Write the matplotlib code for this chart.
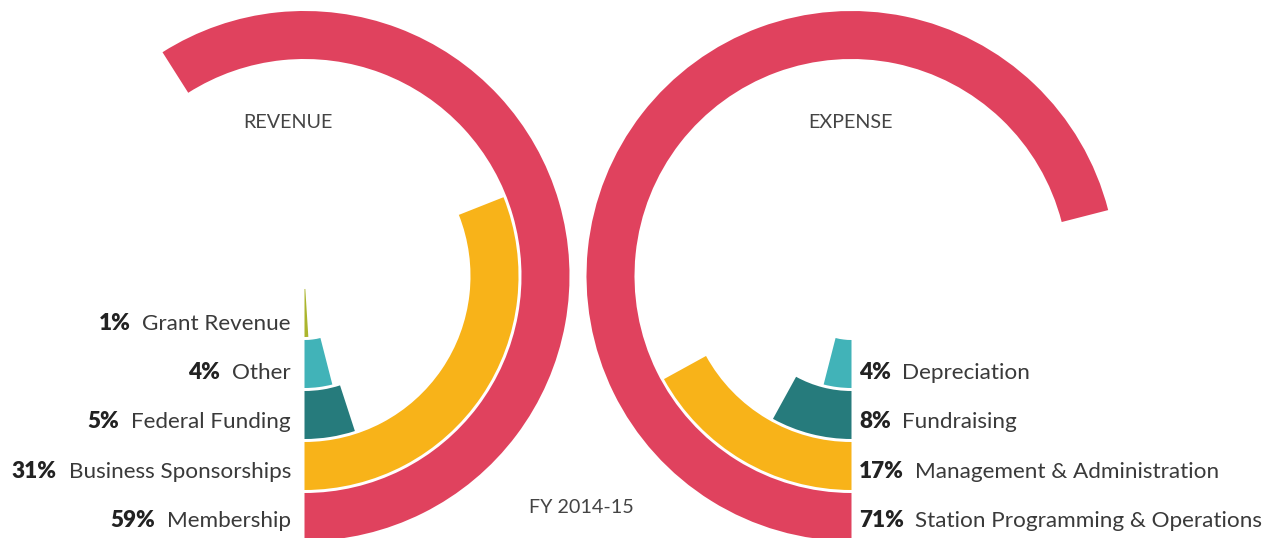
import numpy as np
import matplotlib
matplotlib.use("Agg")
import matplotlib.pyplot as plt

plt.rcParams['font.family'] = ['Lato', 'DejaVu Sans']

# data, outer ring first
rev_names = ["Membership", "Business Sponsorships", "Federal Funding", "Other", "Grant Revenue"]
rev_pct = [59, 31, 5, 4, 1]
exp_names = ["Station Programming & Operations", "Management & Administration", "Fundraising", "Depreciation"]
exp_pct = [71, 17, 8, 4]
colors = ["#E0425E", "#F8B319", "#267B7C", "#41B3B8", "#ABB52D"]

W, H = 1272, 538
fig = plt.figure(figsize=(W / 100, H / 100), dpi=100)

RMAX = 270.0
ring_in = [217, 166, 115, 64, 13]
ring_h = 48
label_base = [527, 478, 428, 379, 330]   # baseline (px from top)
FS = 16.2


def make_ax(cx, cy, direction):
    ax = fig.add_axes([(cx - RMAX) / W, (H - cy - RMAX) / H, 2 * RMAX / W, 2 * RMAX / H],
                      projection="polar")
    ax.set_theta_zero_location("S")
    ax.set_theta_direction(direction)
    ax.set_ylim(0, RMAX)
    ax.axis("off")
    return ax


def draw_rings(ax, pcts, cols):
    for i, p in enumerate(pcts):
        ax.bar(0, ring_h, width=np.deg2rad(p * 3.6), bottom=ring_in[i], align="edge",
               color=cols[i], edgecolor="none")


renderer = fig.canvas.get_renderer()


def label(x, base, pct, name, side):
    y = (H - base) / H
    if side == "left":
        t = fig.text(x / W, y, name, ha="right", va="baseline", fontsize=FS, color="#3a3a3a")
        bb = t.get_window_extent(renderer)
        fig.text((bb.x0 - 12) / W, y, f"{pct}%", ha="right", va="baseline",
                 fontsize=FS, fontweight="heavy", color="#222222")
    else:
        t = fig.text(x / W, y, f"{pct}%", ha="left", va="baseline", fontsize=FS,
                     fontweight="heavy", color="#222222")
        bb = t.get_window_extent(renderer)
        fig.text((bb.x1 + 11) / W, y, name, ha="left", va="baseline",
                 fontsize=FS, color="#3a3a3a")


# revenue
ax1 = make_ax(304.5, 276, 1)
draw_rings(ax1, rev_pct, colors)
for i in range(len(rev_pct)):
    label(291, label_base[i], rev_pct[i], rev_names[i], "left")

# expense
ax2 = make_ax(851.5, 276, -1)
draw_rings(ax2, exp_pct, colors)
for i in range(len(exp_pct)):
    label(859, label_base[i], exp_pct[i], exp_names[i], "right")

fig.text(288 / W, (H - 128) / H, "REVENUE", ha="center", va="baseline", fontsize=14.2, color="#444444")
fig.text(850 / W, (H - 128) / H, "EXPENSE", ha="center", va="baseline", fontsize=14.2, color="#444444")
fig.text(581 / W, (H - 513) / H, "FY 2014-15", ha="center", va="baseline", fontsize=14.2, color="#444444")

fig.savefig("out.png", dpi=100)
